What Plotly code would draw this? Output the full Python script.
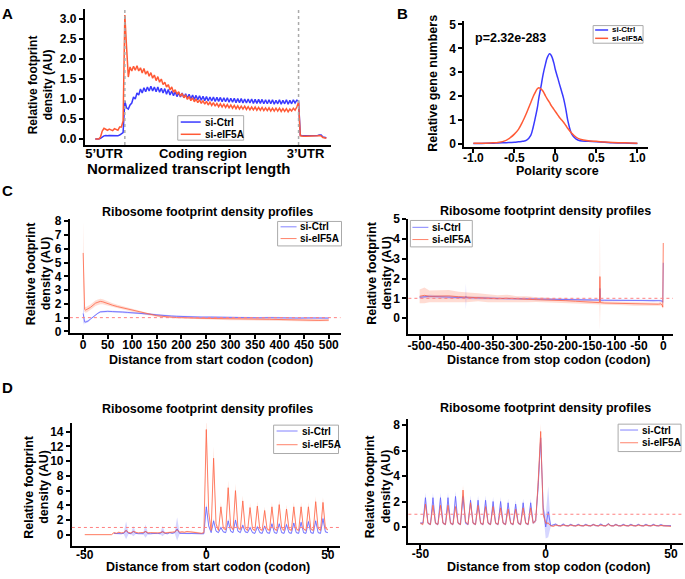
import plotly.graph_objects as go

W, H = 685, 579
FONT = 'Liberation Sans, Arial, sans-serif'
BLUE = '#3a3aff'
RED = '#ff5a36'
BLUE_T = 'rgba(90,90,255,0.75)'
RED_T = 'rgba(255,100,70,0.8)'
BLUE_F = 'rgba(120,120,255,0.30)'
RED_F = 'rgba(255,140,110,0.30)'

# ---------------- Panel A: metagene over normalized transcript ----------------
a_x = list(range(-17, 117))
a_ctrl_utr5 = [0.0, 0.0, 0.0, 0.02, 0.06, 0.08, 0.09, 0.08, 0.09, 0.09, 0.08, 0.08, 0.09, 0.08, 0.1, 0.12, 0.16]
a_eif_utr5 = [0.0, 0.0, 0.0, 0.05, 0.2, 0.27, 0.25, 0.22, 0.25, 0.23, 0.21, 0.26, 0.24, 0.22, 0.3, 0.3, 0.45]
a_ctrl_cds = [0.95, 0.78, 0.75, 0.85, 0.9, 1.05, 1.0, 1.15, 1.1, 1.25,
              1.15, 1.28, 1.18, 1.3, 1.2, 1.32, 1.2, 1.3, 1.18, 1.3,
              1.17, 1.27, 1.15, 1.26, 1.12, 1.24, 1.1, 1.2, 1.08, 1.18,
              1.06, 1.16, 1.05, 1.15, 1.03, 1.13, 1.02, 1.12, 1.0, 1.1,
              0.99, 1.09, 0.98, 1.08, 0.97, 1.07, 0.96, 1.06, 0.95, 1.05,
              0.95, 1.05, 0.94, 1.04, 0.94, 1.04, 0.93, 1.03, 0.93, 1.03,
              0.92, 1.02, 0.92, 1.02, 0.91, 1.01, 0.91, 1.01, 0.9, 1.0,
              0.9, 1.0, 0.9, 1.0, 0.89, 0.99, 0.89, 0.99, 0.89, 0.99,
              0.88, 0.98, 0.88, 0.98, 0.88, 0.98, 0.87, 0.97, 0.88, 0.98,
              0.87, 0.97, 0.88, 0.98, 0.87, 0.97, 0.88, 0.98, 0.9, 0.97,
              0.95]
a_eif_cds = [3.1, 2.3, 1.55, 1.8, 1.7, 1.82, 1.72, 1.83, 1.7, 1.78,
             1.65, 1.76, 1.62, 1.7, 1.57, 1.66, 1.52, 1.6, 1.46, 1.56,
             1.42, 1.5, 1.36, 1.42, 1.3, 1.36, 1.23, 1.3, 1.17, 1.23,
             1.12, 1.18, 1.07, 1.14, 1.03, 1.1, 0.99, 1.06, 0.96, 1.03,
             0.93, 1.0, 0.91, 0.98, 0.89, 0.96, 0.87, 0.94, 0.85, 0.92,
             0.84, 0.91, 0.82, 0.89, 0.81, 0.88, 0.8, 0.87, 0.79, 0.86,
             0.78, 0.85, 0.77, 0.84, 0.76, 0.83, 0.75, 0.82, 0.75, 0.82,
             0.74, 0.81, 0.73, 0.8, 0.73, 0.8, 0.72, 0.79, 0.72, 0.79,
             0.71, 0.78, 0.71, 0.78, 0.7, 0.77, 0.7, 0.77, 0.7, 0.77,
             0.69, 0.76, 0.69, 0.76, 0.68, 0.75, 0.7, 0.77, 0.72, 0.8,
             0.92]
a_ctrl_utr3 = [0.1, 0.08, 0.08, 0.08, 0.08, 0.08, 0.08, 0.08, 0.08, 0.08, 0.09, 0.1, 0.1, 0.05, 0.03, 0.03]
a_eif_utr3 = [0.08, 0.07, 0.07, 0.07, 0.07, 0.07, 0.07, 0.07, 0.07, 0.07, 0.08, 0.09, 0.08, 0.04, 0.02, 0.02]
a_tick_pos = [-12, 45, 104]
a_tick_text = ['5’UTR', 'Coding region', '3’UTR']
a_bounds = [0, 100]

# ---------------- Panel B: polarity score ----------------
b_x = [-1.0, -0.9, -0.8, -0.75, -0.7, -0.6, -0.55, -0.5, -0.45, -0.4,
       -0.35, -0.3, -0.27, -0.25, -0.22, -0.2, -0.17, -0.15, -0.12, -0.1,
       -0.07, -0.05, -0.02, 0.0, 0.03, 0.05, 0.08, 0.1, 0.13, 0.15,
       0.2, 0.25, 0.3, 0.4, 0.5, 0.6, 0.7, 0.8, 0.9, 1.0]
b_ctrl = [0.01, 0.01, 0.02, 0.02, 0.03, 0.04, 0.05, 0.06, 0.08, 0.1,
          0.15, 0.35, 0.7, 1.0, 1.5, 1.95, 2.5, 2.9, 3.35, 3.6,
          3.77, 3.7, 3.4, 3.1, 2.75, 2.5, 2.15, 1.9, 1.4, 1.0,
          0.4, 0.2, 0.12, 0.1, 0.08, 0.06, 0.04, 0.03, 0.02, 0.01]
b_eif = [0.02, 0.02, 0.03, 0.04, 0.05, 0.14, 0.25, 0.4, 0.6, 0.92,
         1.3, 1.72, 1.98, 2.12, 2.3, 2.35, 2.28, 2.2, 2.0, 1.88,
         1.72, 1.6, 1.45, 1.35, 1.2, 1.1, 0.98, 0.9, 0.75, 0.65,
         0.44, 0.28, 0.19, 0.12, 0.1, 0.07, 0.05, 0.04, 0.03, 0.02]
b_xticks = [-1.0, -0.5, 0, 0.5, 1.0]
b_xtick_text = ['-1.0', '-0.5', '0', '0.5', '1.0']
b_pvalue = 'p=2.32e-283'

# ---------------- Panel C left: from start codon ----------------
cl_x = [0, 1, 2, 3, 5, 8, 10, 15, 20, 25, 30, 35, 40, 45, 50,
        60, 70, 80, 90, 100, 110, 120, 130, 140, 150, 160, 170, 180, 190, 200,
        220, 240, 260, 280, 300, 320, 340, 360, 380, 400, 420, 440, 460, 480, 500]
cl_ctrl = [1.3, 1.0, 0.8, 0.7, 0.68, 0.72, 0.75, 0.9, 1.05, 1.2, 1.32, 1.42, 1.45, 1.43, 1.46,
           1.44, 1.45, 1.41, 1.38, 1.36, 1.33, 1.3, 1.27, 1.24, 1.2, 1.19, 1.15, 1.12, 1.1, 1.08,
           1.06, 1.04, 1.04, 1.02, 1.0, 1.01, 1.0, 0.99, 1.0, 0.98, 0.98, 0.97, 0.98, 0.97, 0.97]
cl_ctrl_err = [0.9, 0.35, 0.2, 0.12, 0.1, 0.08, 0.08, 0.06, 0.06, 0.06, 0.06, 0.06, 0.06, 0.06, 0.06,
               0.06, 0.06, 0.06, 0.06, 0.06, 0.06, 0.06, 0.06, 0.06, 0.06, 0.06, 0.06, 0.06, 0.06, 0.06,
               0.06, 0.06, 0.06, 0.06, 0.06, 0.06, 0.06, 0.06, 0.06, 0.06, 0.06, 0.06, 0.06, 0.06, 0.06]
cl_eif = [5.7, 3.0, 1.8, 1.6, 1.55, 1.6, 1.65, 1.75, 1.9, 2.05, 2.12, 2.18, 2.15, 2.08, 2.0,
          1.9, 1.8, 1.72, 1.62, 1.52, 1.43, 1.35, 1.28, 1.2, 1.14, 1.1, 1.06, 1.03, 1.0, 1.0,
          0.96, 0.95, 0.94, 0.92, 0.9, 0.9, 0.9, 0.89, 0.88, 0.86, 0.84, 0.82, 0.8, 0.8, 0.82]
cl_eif_err = [2.3, 1.0, 0.35, 0.22, 0.2, 0.2, 0.2, 0.2, 0.2, 0.2, 0.2, 0.2, 0.18, 0.17, 0.16,
              0.15, 0.14, 0.12, 0.12, 0.1, 0.1, 0.1, 0.08, 0.08, 0.08, 0.08, 0.08, 0.08, 0.08, 0.08,
              0.08, 0.08, 0.08, 0.08, 0.08, 0.08, 0.08, 0.08, 0.08, 0.08, 0.08, 0.08, 0.08, 0.08, 0.08]

# ---------------- Panel C right: from stop codon ----------------
cr_x = [-500, -490, -480, -460, -440, -420, -406, -405, -404, -380, -360, -340, -320, -300, -280,
        -260, -240, -220, -200, -180, -160, -140, -131, -130, -129, -120, -100, -80, -60, -40,
        -20, -10, -5, -2, -1, 0]
cr_ctrl = [1.05, 1.08, 1.1, 1.08, 1.06, 1.05, 1.03, 1.1, 1.03, 1.02, 1.0, 1.0, 0.98, 0.98, 0.97,
           0.96, 0.95, 0.94, 0.93, 0.92, 0.92, 0.9, 0.91, 1.5, 0.9, 0.9, 0.9, 0.9, 0.89, 0.9,
           0.88, 0.9, 0.88, 0.85, 0.8, 2.8]
cr_ctrl_err = [0.08, 0.08, 0.08, 0.08, 0.08, 0.08, 0.08, 0.65, 0.08, 0.07, 0.06, 0.06, 0.06, 0.05, 0.05,
               0.05, 0.05, 0.05, 0.05, 0.05, 0.05, 0.05, 0.05, 0.8, 0.05, 0.05, 0.05, 0.05, 0.05, 0.05,
               0.05, 0.05, 0.05, 0.06, 0.08, 0.3]
cr_eif = [1.1, 1.15, 1.1, 1.1, 1.12, 1.08, 1.06, 1.05, 1.05, 1.05, 1.0, 0.98, 1.0, 0.96, 0.95,
          0.93, 0.92, 0.88, 0.88, 0.85, 0.82, 0.8, 0.78, 2.1, 0.78, 0.76, 0.75, 0.73, 0.7, 0.7,
          0.68, 0.7, 0.72, 0.65, 0.55, 3.8]
cr_eif_err = [0.35, 0.4, 0.3, 0.3, 0.3, 0.25, 0.25, 0.25, 0.25, 0.2, 0.2, 0.18, 0.18, 0.15, 0.15,
              0.12, 0.12, 0.1, 0.1, 0.1, 0.1, 0.1, 0.1, 2.7, 0.1, 0.08, 0.08, 0.08, 0.08, 0.08,
              0.08, 0.08, 0.1, 0.1, 0.1, 0.25]
cr_xticks = [-500, -450, -400, -350, -300, -250, -200, -150, -100, -50, 0]

# ---------------- Panel D left: codon-level from start ----------------
dl_eif_x = list(range(-50, 51))
dl_ctrl_x = list(range(-38, 51))
dl_eif_flat = [0.02, 0.02, 0.02, 0.02, 0.02, 0.02, 0.02, 0.02, 0.02, 0.02, 0.02, 0.02]
dl_eif_pre = [0.3, 0.2, 0.35, 0.25, 0.3, 0.6, 0.3, 0.25, 0.45, 0.3, 0.25, 0.3, 0.3, 0.45, 0.25,
              0.3, 0.25, 0.3, 0.25, 0.3, 0.4, 0.25, 0.3, 0.35, 0.3, 0.4, 0.7, 0.35, 0.4, 0.35,
              0.45, 0.4, 0.45, 0.4, 0.35, 0.3, 0.2, 0.3]
dl_eif_cds = [14.3, 3.0, 0.6, 10.4, 1.5, 0.6, 3.8, 0.9, 0.7, 6.4, 1.2, 0.7, 6.0, 1.0, 0.7,
              4.6, 0.9, 0.6, 3.7, 0.8, 0.6, 3.9, 0.8, 0.6, 3.3, 0.8, 0.6, 3.8, 0.8, 0.6,
              4.1, 0.9, 0.6, 3.5, 0.8, 0.6, 3.8, 0.8, 0.6, 3.8, 0.8, 0.6, 3.8, 0.8, 0.6,
              4.5, 0.9, 0.6, 4.4, 0.9, 0.7]
dl_ctrl_pre = [0.2, 0.15, 0.2, 0.15, 0.2, 0.6, 0.2, 0.15, 0.5, 0.2, 0.15, 0.2, 0.15, 0.5, 0.15,
               0.15, 0.2, 0.15, 0.2, 0.15, 0.5, 0.2, 0.15, 0.3, 0.2, 0.3, 0.8, 0.2, 0.2, 0.15,
               0.2, 0.15, 0.2, 0.15, 0.2, 0.15, 0.1, 0.15]
dl_ctrl_cds = [3.8, 1.2, 0.3, 1.9, 0.5, 0.3, 1.0, 0.4, 0.3, 1.9, 0.5, 0.3, 2.0, 0.5, 0.3,
               1.3, 0.4, 0.3, 1.0, 0.3, 0.2, 1.1, 0.3, 0.2, 1.2, 0.3, 0.2, 1.5, 0.3, 0.2,
               1.5, 0.3, 0.2, 1.4, 0.3, 0.2, 1.6, 0.3, 0.2, 1.7, 0.3, 0.2, 1.8, 0.3, 0.2,
               1.9, 0.3, 0.2, 2.2, 0.4, 0.3]
dl_ctrl_spike_x = [-33, -30, -25, -18, -12]
dl_ctrl_spike_err = [1.2, 0.7, 0.9, 0.7, 1.6]

# ---------------- Panel D right: codon-level from stop ----------------
dr_x = list(range(-50, 51))
dr_eif = ([0.3, 0.2,
           1.8, 0.3, 0.2, 1.7, 0.3, 0.2, 1.7, 0.3, 0.2, 1.7, 0.3, 0.2, 1.6, 0.3, 0.2,
           2.9, 0.4, 0.2, 1.9, 0.3, 0.2, 1.7, 0.3, 0.2, 1.6, 0.3, 0.2, 1.6, 0.3, 0.2,
           1.5, 0.3, 0.2, 1.4, 0.3, 0.2, 1.4, 0.3, 0.2, 1.5, 0.3, 0.2, 1.5, 0.3, 0.5,
           3.5, 7.5, 1.0, 0.3,
           0.3, 0.1, 0.05,
           0.15, 0.1, 0.08, 0.15, 0.1, 0.08, 0.15, 0.1, 0.08, 0.15, 0.1, 0.08, 0.15, 0.1, 0.08,
           0.18, 0.1, 0.08, 0.15, 0.1, 0.08, 0.22, 0.1, 0.08, 0.18, 0.1, 0.08, 0.15, 0.1, 0.08,
           0.15, 0.1, 0.08, 0.15, 0.1, 0.08, 0.15, 0.1, 0.08, 0.15, 0.1, 0.08, 0.12, 0.1, 0.08,
           0.1, 0.05])
dr_ctrl = ([0.3, 0.3,
            2.3, 0.3, 0.2, 2.3, 0.3, 0.2, 2.3, 0.3, 0.2, 2.3, 0.3, 0.2, 2.4, 0.3, 0.2,
            2.4, 0.3, 0.2, 2.1, 0.3, 0.2, 2.1, 0.3, 0.2, 2.1, 0.3, 0.2, 2.0, 0.3, 0.2,
            2.0, 0.3, 0.2, 1.9, 0.3, 0.2, 1.8, 0.3, 0.2, 1.9, 0.3, 0.2, 1.9, 0.3, 0.5,
            3.2, 7.0, 1.5, 0.0,
            1.2, 0.1, 0.15,
            0.22, 0.1, 0.1, 0.22, 0.1, 0.1, 0.2, 0.1, 0.1, 0.2, 0.1, 0.1, 0.2, 0.1, 0.1,
            0.2, 0.1, 0.1, 0.22, 0.1, 0.1, 0.25, 0.1, 0.1, 0.2, 0.1, 0.1, 0.2, 0.1, 0.1,
            0.2, 0.1, 0.1, 0.2, 0.1, 0.1, 0.2, 0.1, 0.1, 0.2, 0.1, 0.1, 0.18, 0.1, 0.1,
            0.15, 0.1])
dr_ctrl_spike_x = [-2, 0, 1]
dr_ctrl_spike_err = [0.6, 0.9, 2.0]
dr_eif_spike_x = [-33, -2]
dr_eif_spike_err = [0.4, 0.6]
d_band_frac = 0.15
d_band_floor = 0.05

d_xticks = [-50, 0, 50]
d_xtick_text = ['-50', '0', '50']
ref_level = 1.0
panel_title = 'Ribosome footprint density profiles'
y_title_lines = ['Relative footprint', 'density (AU)']
series_names = ['si-Ctrl', 'si-eIF5A']


def px(v):
    return v / W


def py(v):
    return 1 - v / H


def d_err(x, y, spike_x=(), spike_err=()):
    err = [d_band_frac * v + d_band_floor for v in y]
    for sx, se in zip(spike_x, spike_err):
        err[x.index(sx)] = se
    return err


def band(fig, x, y, err, color, xa, ya):
    up = [v + e for v, e in zip(y, err)]
    lo = [v - e for v, e in zip(y, err)]
    fig.add_trace(go.Scatter(x=list(x) + list(x)[::-1], y=up + lo[::-1], fill='toself',
                             fillcolor=color, line=dict(width=0), showlegend=False,
                             hoverinfo='skip', xaxis=xa, yaxis=ya))


def line(fig, x, y, name, color, width, xa, ya, shape='linear'):
    fig.add_trace(go.Scatter(x=x, y=y, name=name, mode='lines', line=dict(color=color, width=width, shape=shape),
                             xaxis=xa, yaxis=ya, showlegend=False))


fig = go.Figure()

# A
line(fig, a_x, a_ctrl_utr5 + a_ctrl_cds + a_ctrl_utr3, 'si-Ctrl', BLUE, 1.5, 'x', 'y')
line(fig, a_x, a_eif_utr5 + a_eif_cds + a_eif_utr3, 'si-eIF5A', RED, 1.5, 'x', 'y')

# B
line(fig, b_x, b_ctrl, 'si-Ctrl', BLUE, 1.5, 'x2', 'y2', 'spline')
line(fig, b_x, b_eif, 'si-eIF5A', RED, 1.5, 'x2', 'y2', 'spline')

# C left
band(fig, cl_x, cl_ctrl, cl_ctrl_err, BLUE_F, 'x3', 'y3')
band(fig, cl_x, cl_eif, cl_eif_err, RED_F, 'x3', 'y3')
line(fig, cl_x, cl_ctrl, 'si-Ctrl', BLUE_T, 1, 'x3', 'y3')
line(fig, cl_x, cl_eif, 'si-eIF5A', RED_T, 1, 'x3', 'y3')

# C right
band(fig, cr_x, cr_ctrl, cr_ctrl_err, BLUE_F, 'x4', 'y4')
band(fig, cr_x, cr_eif, cr_eif_err, RED_F, 'x4', 'y4')
line(fig, cr_x, cr_ctrl, 'si-Ctrl', BLUE_T, 1, 'x4', 'y4')
line(fig, cr_x, cr_eif, 'si-eIF5A', RED_T, 1, 'x4', 'y4')

# D left
dl_eif = dl_eif_flat + dl_eif_pre + dl_eif_cds
dl_ctrl = dl_ctrl_pre + dl_ctrl_cds
band(fig, dl_eif_x, dl_eif, d_err(dl_eif_x, dl_eif), RED_F, 'x5', 'y5')
band(fig, dl_ctrl_x, dl_ctrl, d_err(dl_ctrl_x, dl_ctrl, dl_ctrl_spike_x, dl_ctrl_spike_err), BLUE_F, 'x5', 'y5')
line(fig, dl_ctrl_x, dl_ctrl, 'si-Ctrl', BLUE_T, 1, 'x5', 'y5')
line(fig, dl_eif_x, dl_eif, 'si-eIF5A', RED_T, 1, 'x5', 'y5')

# D right
band(fig, dr_x, dr_ctrl, d_err(dr_x, dr_ctrl, dr_ctrl_spike_x, dr_ctrl_spike_err), BLUE_F, 'x6', 'y6')
band(fig, dr_x, dr_eif, d_err(dr_x, dr_eif, dr_eif_spike_x, dr_eif_spike_err), RED_F, 'x6', 'y6')
line(fig, dr_x, dr_ctrl, 'si-Ctrl', BLUE_T, 1, 'x6', 'y6')
line(fig, dr_x, dr_eif, 'si-eIF5A', RED_T, 1, 'x6', 'y6')


def axis(dom, rng, anchor, **kw):
    d = dict(domain=dom, range=rng, anchor=anchor, showline=True, linecolor='black', linewidth=2,
             ticks='outside', ticklen=4, tickwidth=2, tickcolor='black', showgrid=False, zeroline=False,
             tickfont=dict(size=12, weight='bold', color='black', family=FONT))
    d.update(kw)
    return d


shapes = []
annotations = []
for xb in a_bounds:
    shapes.append(dict(type='line', xref='x', yref='y domain', x0=xb, x1=xb, y0=0, y1=1,
                       line=dict(color='#aaaaaa', width=1.5, dash='dot')))
for n in ['3', '4', '5', '6']:
    shapes.append(dict(type='line', xref='x' + n + ' domain', yref='y' + n, x0=0, x1=1, y0=ref_level, y1=ref_level,
                       line=dict(color='#ff8080', width=1, dash='dot')))


def text(s, x, y, size, angle=0, anchor='center'):
    annotations.append(dict(text=s, x=px(x), y=py(y), xref='paper', yref='paper', xanchor=anchor,
                            yanchor='middle', showarrow=False, textangle=angle,
                            font=dict(size=size, weight='bold', color='black', family=FONT)))


def y_title(x1, x2, y, size):
    text(y_title_lines[0], x1, y, size, angle=-90)
    text(y_title_lines[1], x2, y, size, angle=-90)


# hand-drawn legend boxes (compact, like the original)
def legend_box(box, rows, line_x, text_x, colors, width, size):
    x0, y0, x1, y1 = box
    shapes.append(dict(type='rect', xref='paper', yref='paper', x0=px(x0), x1=px(x1), y0=py(y1), y1=py(y0),
                       line=dict(color='#aaaaaa', width=1), fillcolor='white', layer='above'))
    for name, ry, col in zip(series_names, rows, colors):
        shapes.append(dict(type='line', xref='paper', yref='paper', x0=px(line_x[0]), x1=px(line_x[1]),
                           y0=py(ry), y1=py(ry), line=dict(color=col, width=width), layer='above'))
        text(name, text_x, ry, size, anchor='left')


legend_box((177, 112, 243, 137), (118.5, 131), (180, 200), 202, (BLUE, RED), 1.5, 10)
legend_box((593, 20, 643, 38), (24.5, 33), (595, 608), 610, (BLUE, RED), 1.5, 8)
legend_box((277, 220, 341, 245), (225.5, 237.5), (280, 296), 297, (BLUE_T, RED_T), 1, 10)
legend_box((410, 219, 472, 246), (226, 238.5), (412, 428), 430, (BLUE_T, RED_T), 1, 10)
legend_box((273, 428, 338, 457), (434, 448), (276, 297), 299, (BLUE_T, RED_T), 1, 10)
legend_box((618, 427, 681, 455), (433, 446), (620, 638), 640, (BLUE_T, RED_T), 1, 10)

# panel letters, panel titles, p-value
for lab, lx, ly in [('A', 7, 8), ('B', 402, 8), ('C', 7, 188), ('D', 7, 390)]:
    text(lab, lx, ly, 15)
for tx, ty in [(207, 210), (545, 209), (207, 412), (545, 410)]:
    text(panel_title, tx, ty, 12.5)
text(b_pvalue, 510, 33, 12.5)

# axis titles
text('Normalized transcript length', 188, 166, 15)
y_title(32, 47, 80, 12)
text('Polarity score', 557, 168, 12.5)
text('Relative gene numbers', 433, 79, 12.5, angle=-90)
text('Distance from start codon (codon)', 210, 362, 12.5)
y_title(30, 45, 273, 12.5)
text('Distance from stop codon (codon)', 548, 362, 12.5)
y_title(372, 387, 272, 12.5)
text('Distance from start codon (codon)', 207, 573, 12.5)
y_title(28, 43, 491, 12.5)
text('Distance from stop codon (codon)', 548, 573, 12.5)
y_title(369, 385, 490, 12.5)

fig.update_layout(
    width=W, height=H, margin=dict(l=0, r=0, t=0, b=0),
    plot_bgcolor='white', paper_bgcolor='white',
    font=dict(family=FONT, color='black'),
    showlegend=False,
    xaxis=axis([px(84), px(330)], [-23, 118.4], 'y', ticks='', tickvals=a_tick_pos, ticktext=a_tick_text,
               tickfont=dict(size=13, weight='bold', color='black', family=FONT), ticklabelstandoff=-5),
    yaxis=axis([py(142), py(3)], [-0.15, 3.25], 'x', dtick=0.5, tickformat='.1f'),
    xaxis2=axis([px(464), px(648)], [-1.11, 1.13], 'y2', tickvals=b_xticks, ticktext=b_xtick_text,
                ticklabelstandoff=-5),
    yaxis2=axis([py(144), py(15)], [-0.14, 5.16], 'x2', dtick=1),
    xaxis3=axis([px(69), px(340)], [-27, 524], 'y3', dtick=50, tickangle=0, ticklabelstandoff=-4),
    yaxis3=axis([py(334), py(217)], [-0.12, 8.2], 'x3', dtick=1),
    xaxis4=axis([px(408), px(673)], [-523, 20], 'y4', tickvals=cr_xticks, tickangle=0,
                ticktext=[str(v) for v in cr_xticks], ticklabelstandoff=-4),
    yaxis4=axis([py(335), py(217)], [-0.81, 5.04], 'x4', dtick=1),
    xaxis5=axis([px(71), px(339)], [-55.3, 54.8], 'y5', tickvals=d_xticks, ticktext=d_xtick_text,
                ticklabelstandoff=-7),
    yaxis5=axis([py(551), py(426)], [-1.46, 15.16], 'x5', dtick=2),
    xaxis6=axis([px(408), px(683)], [-54.8, 54.8], 'y6', tickvals=d_xticks, ticktext=d_xtick_text,
                ticklabelstandoff=-5),
    yaxis6=axis([py(548), py(422)], [-1.23, 8.46], 'x6', dtick=2),
    shapes=shapes,
    annotations=annotations,
)

fig.write_html('out.html', config={'displayModeBar': False},
               post_script="document.body.style.margin='0px';")
